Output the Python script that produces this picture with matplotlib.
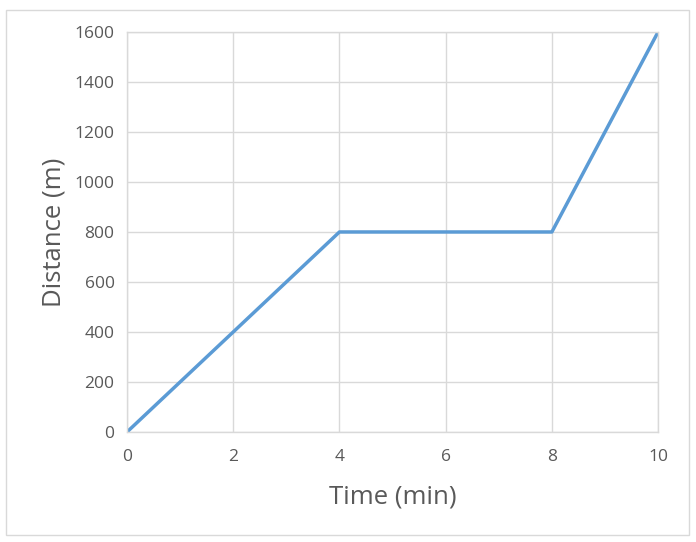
import matplotlib
matplotlib.use("Agg")
import matplotlib.pyplot as plt
from matplotlib.patches import Rectangle

# distance-time data
time_min = [0, 4, 8, 10]
distance_m = [0, 800, 800, 1600]
x_ticks = [0, 2, 4, 6, 8, 10]
y_ticks = [0, 200, 400, 600, 800, 1000, 1200, 1400, 1600]

plt.rcParams['font.family'] = ['Open Sans', 'DejaVu Sans']

fig = plt.figure(figsize=(6.96, 5.42), dpi=100)
ax = fig.add_axes([0.1825, 0.203, 0.763, 0.738])

# outer chart border like the spreadsheet chart frame
fig.patches.append(Rectangle((0.009, 0.013), 0.981, 0.968, transform=fig.transFigure,
                             fill=False, edgecolor='#D9D9D9', linewidth=1.0))

ax.plot(time_min, distance_m, color='#5B9BD5', linewidth=2.5, solid_capstyle='round')

ax.set_xlim(0, 10)
ax.set_ylim(0, 1600)
ax.set_xticks(x_ticks)
ax.set_yticks(y_ticks)
ax.grid(True, color='#D9D9D9', linewidth=1.0)
ax.set_axisbelow(True)
for s in ax.spines.values():
    s.set_color('#D9D9D9')
    s.set_linewidth(1.0)
ax.tick_params(length=0, labelsize=12.5, labelcolor='#595959')
ax.tick_params(axis='x', pad=12)
ax.tick_params(axis='y', pad=9)

ax.set_xlabel('Time (min)', fontsize=18.5, color='#595959', labelpad=14)
ax.set_ylabel('Distance (m)', fontsize=18.5, color='#595959', labelpad=6)

fig.savefig('out.png', dpi=100)
